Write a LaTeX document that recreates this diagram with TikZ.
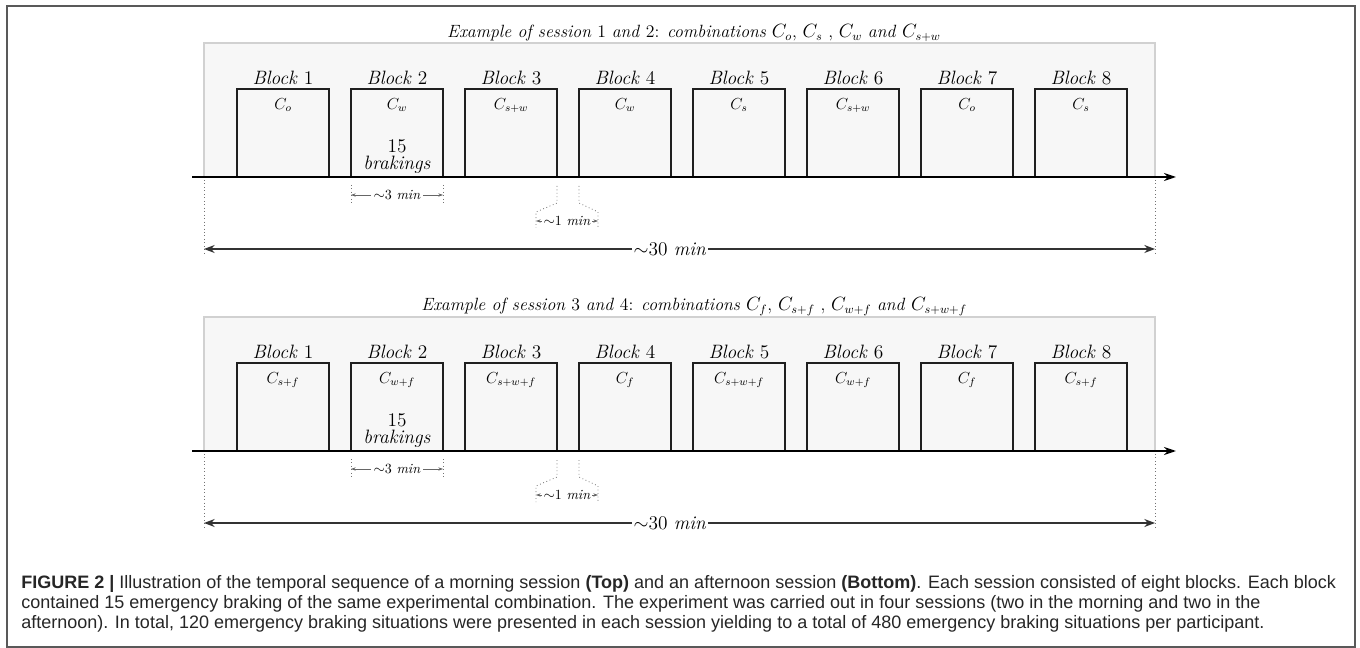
\documentclass[tikz,border=0pt]{standalone}
\usepackage{amsmath}
\usepackage{fontspec}
\newfontfamily\capfont{Liberation Sans}
\usetikzlibrary{positioning,arrows.meta}
\tikzset{
  block box/.style={draw=black!88, line width=2pt, minimum width=69pt, minimum height=66pt, inner sep=0pt, outer sep=0pt},
  block label/.style={font=\fontsize{14.5}{16}\selectfont, inner sep=1pt},
  combo label/.style={font=\fontsize{12}{14}\selectfont, inner sep=1pt},
  title label/.style={font=\fontsize{13.3}{16}\selectfont, inner sep=1pt},
  panel/.style={fill=black!3, draw=black!18, line width=0.8pt},
  time axis/.style={line width=1.6pt, -{Stealth[length=9pt,width=6pt]}},
  guide/.style={dotted, draw=black!55, line width=0.6pt},
  small dim/.style={draw=black!60, line width=0.5pt, -{Stealth[length=3.5pt,width=2.5pt]}},
  big dim/.style={draw=black!80, line width=1pt, -{Stealth[length=8pt,width=6pt]}},
  dim label/.style={font=\fontsize{10.5}{12}\selectfont, inner sep=2pt},
  cap line/.style={font=\capfont\fontsize{13.5}{15}\selectfont, text=black!85, anchor=west, inner sep=0pt},
}

\begin{document}
\begin{tikzpicture}[x=0.75pt, y=-0.75pt]
\useasboundingbox (0,0) rectangle (1360,648);
% Frame
\draw[black!65, line width=1.2pt] (7,6) rectangle (1355,647);

% Titles
\node[title label] (a-title) at (694,33) {\textit{Example of session} 1 \textit{and} 2: \textit{combinations} $C_o$, $C_s$ , $C_w$ \textit{and} $C_{s+w}$};
\node[title label] (b-title) at (694,307) {\textit{Example of session} 3 \textit{and} 4: \textit{combinations} $C_f$, $C_{s+f}$ , $C_{w+f}$ \textit{and} $C_{s+w+f}$};

% Sessions
\foreach \p/\dy/\combos in {a/0/{o,w,s+w,w,s,s+w,o,s}, b/274/{s+f,w+f,s+w+f,f,s+w+f,w+f,f,s+f}}{
  \draw[panel] (204,{43+\dy}) rectangle (1155,{177+\dy});
  \coordinate (\p-start) at (192,{177+\dy});
  \coordinate (\p-end) at (1176,{177+\dy});
  % Blocks
  \foreach \c [count=\i] in \combos {
    \node[block box, anchor=south] (\p-box\i) at ({283+114*(\i-1)},{177+\dy}) {};
    \node[block label, above=2pt of \p-box\i] (\p-block\i) {\textit{Block} \i};
    \node[combo label, below=6pt of \p-box\i.north] (\p-combo\i) {$C_{\c}$};
  }
  \node[block label, above=1.5pt of \p-box2.south] (\p-brakings) {\textit{brakings}};
  \node[block label, above=0pt of \p-brakings] (\p-count) {15};
  \draw[time axis] (\p-start) -- (\p-end);

  % ~3 min
  \coordinate (\p-t3a) at (351,{185+\dy});
  \coordinate (\p-t3b) at (443,{185+\dy});
  \draw[guide] (\p-t3a) -- ++(0,18);
  \draw[guide] (\p-t3b) -- ++(0,18);
  \node[dim label] (\p-min3) at (397,{195+\dy}) {$\sim$3 \textit{min}};
  \coordinate (\p-d3a) at (351,{195+\dy});
  \coordinate (\p-d3b) at (443,{195+\dy});
  \draw[small dim] (\p-min3) -- (\p-d3a);
  \draw[small dim] (\p-min3) -- (\p-d3b);

  % ~1 min
  \coordinate (\p-t1a) at (557,{186+\dy});
  \coordinate (\p-t1b) at (579,{186+\dy});
  \draw[guide] (\p-t1a) -- ++(0,17) -- ++(-21,9) -- ++(0,16);
  \draw[guide] (\p-t1b) -- ++(0,17) -- ++(19,9) -- ++(0,16);
  \node[dim label, inner sep=1pt] (\p-min1) at (567,{221+\dy}) {$\sim$1 \textit{min}};
  \coordinate (\p-d1a) at (536,{221+\dy});
  \coordinate (\p-d1b) at (598,{221+\dy});
  \draw[small dim] (\p-min1) -- (\p-d1a);
  \draw[small dim] (\p-min1) -- (\p-d1b);

  % ~30 min
  \coordinate (\p-t30a) at (204,{180+\dy});
  \coordinate (\p-t30b) at (1155,{180+\dy});
  \draw[guide] (\p-t30a) -- ++(0,75);
  \draw[guide] (\p-t30b) -- ++(0,75);
  \node[block label, inner sep=1pt] (\p-min30) at (670,{249+\dy}) {$\sim$30 \textit{min}};
  \coordinate (\p-d30a) at (204,{249+\dy});
  \coordinate (\p-d30b) at (1155,{249+\dy});
  \draw[big dim] (\p-min30) -- (\p-d30a);
  \draw[big dim] (\p-min30) -- (\p-d30b);
}

% Caption
\node[cap line] (cap1) at (21,584) {\textbf{FIGURE 2 |} Illustration of the temporal sequence of a morning session \textbf{(Top)} and an afternoon session \textbf{(Bottom)}. Each session consisted of eight blocks. Each block};
\node[cap line] (cap2) at (21,604) {contained 15 emergency braking of the same experimental combination. The experiment was carried out in four sessions (two in the morning and two in the};
\node[cap line] (cap3) at (21,624) {afternoon). In total, 120 emergency braking situations were presented in each session yielding to a total of 480 emergency braking situations per participant.};
\end{tikzpicture}
\end{document}
